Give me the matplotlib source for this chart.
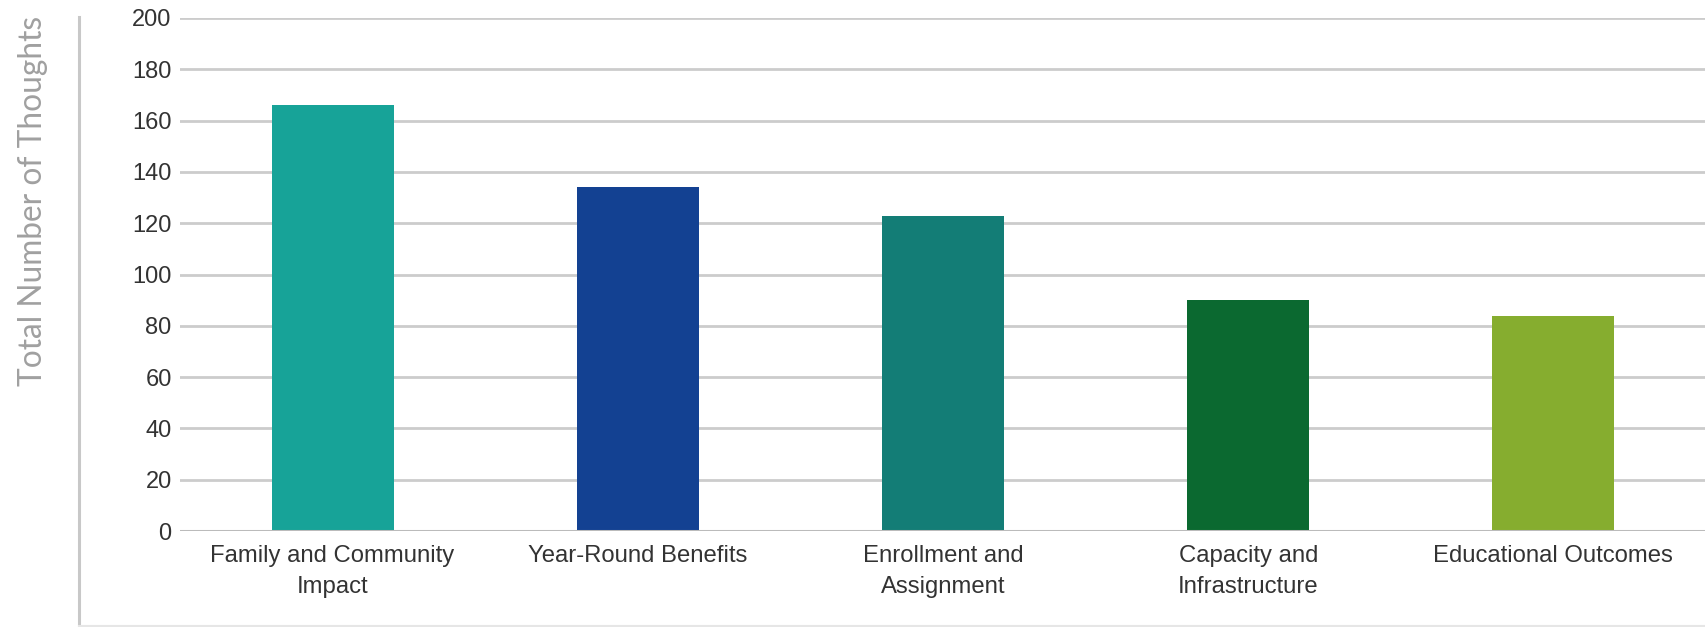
import matplotlib
matplotlib.use("Agg")
import matplotlib.pyplot as plt
from matplotlib.lines import Line2D

categories = ["Family and Community\nImpact", "Year-Round Benefits", "Enrollment and\nAssignment",
              "Capacity and\nInfrastructure", "Educational Outcomes"]
values = [166, 134, 123, 90, 84]
colors = ["#17A398", "#134192", "#137D76", "#0B6930", "#86AD2F"]
yticks = [0, 20, 40, 60, 80, 100, 120, 140, 160, 180, 200]

W, H = 1706, 627
fig = plt.figure(figsize=(W / 100, H / 100), dpi=100)
ax = fig.add_axes([180 / W, 1 - 531 / H, 1 - 180 / W, (531 - 18) / H])

x = list(range(len(categories)))
ax.bar(x, values, width=0.4, color=colors, zorder=3)
ax.set_xlim(-0.5, len(categories) - 0.5)
ax.set_ylim(0, 200)
ax.set_yticks(yticks)
ax.set_xticks(x)
ax.set_xticklabels(categories, family="Liberation Sans", fontsize=17.2, color="#333333", linespacing=1.52)
ax.set_yticklabels([str(v) for v in yticks], family="Liberation Sans", fontsize=17, color="#333333")
ax.tick_params(axis="both", length=0)
ax.tick_params(axis="y", pad=6)
ax.tick_params(axis="x", pad=10)
ax.grid(axis="y", color="#cccccc", linewidth=2, zorder=0)
for s in ax.spines.values():
    s.set_visible(False)
ax.axhline(0, color="#bbbbbb", linewidth=2.2, zorder=4)

# outer frame lines
fig.add_artist(Line2D([79 / W, 79 / W], [0, 1 - 17 / H], color="#c8c8c8", linewidth=2.2, transform=fig.transFigure))
fig.add_artist(Line2D([79 / W, 1], [1 / H, 1 / H], color="#e6e6e6", linewidth=1.5, transform=fig.transFigure))

fig.text(33 / W, 1 - 201 / H, "Total Number of Thoughts", rotation=90, ha="center", va="center",
         family=["Lato", "DejaVu Sans"], fontweight="normal", fontsize=22.8, color="#a0a0a0")

fig.savefig("out.png", dpi=100)
